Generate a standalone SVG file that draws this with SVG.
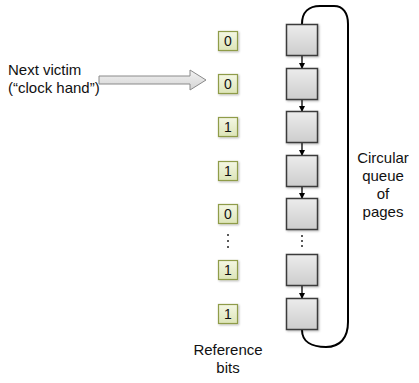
<svg xmlns="http://www.w3.org/2000/svg" width="419" height="383" viewBox="0 0 419 383">
<style>
.lbl{font-family:"Liberation Sans",Arial,sans-serif;font-size:15px;fill:#111}
.bittxt{font-family:"Liberation Sans",Arial,sans-serif;font-size:14px;fill:#111;text-anchor:middle}
.bit{fill:url(#gBit);stroke:#8f9c48;stroke-width:1.2;filter:url(#sh)}
.page{fill:url(#gPage);stroke:#3a3a3a;stroke-width:1.5;filter:url(#sh)}
.link{stroke:#000;stroke-width:1.3;fill:none;marker-end:url(#ah)}
.loop{stroke:#000;stroke-width:2;fill:none}
.dot{fill:#222}
</style>
<defs>
<filter id="sh" x="-20%" y="-20%" width="150%" height="150%"><feDropShadow dx="1" dy="1" stdDeviation="0.8" flood-color="#000" flood-opacity="0.3"/></filter>
<linearGradient id="gBit" x1="0" y1="0" x2="0" y2="1"><stop offset="0" stop-color="#f4f7e4"/><stop offset="1" stop-color="#dde5b8"/></linearGradient>
<linearGradient id="gPage" x1="0" y1="0" x2="0" y2="1"><stop offset="0" stop-color="#ececec"/><stop offset="1" stop-color="#cdcdcd"/></linearGradient>
<linearGradient id="gArrow" x1="0" y1="0" x2="0" y2="1"><stop offset="0" stop-color="#f2f2f2"/><stop offset="1" stop-color="#d4d4d4"/></linearGradient>
<marker id="ah" markerWidth="6" markerHeight="6" refX="5" refY="3" orient="auto" markerUnits="userSpaceOnUse"><path d="M0,0 L6,3 L0,6 Z" fill="#000"/></marker>
</defs>

<g id="connectors">
<path class="loop" d="M302,24 C302,12 309,6 320,6 L334,6 C343,6 348,13 348,24 L348,322 C348,338 340,347 326,347 C312,347 302,342 302,330"/>
<line class="link" x1="302" y1="56" x2="302" y2="68"/>
<line class="link" x1="302" y1="99" x2="302" y2="111"/>
<line class="link" x1="302" y1="143" x2="302" y2="155"/>
<line class="link" x1="302" y1="186" x2="302" y2="198"/>
<line class="link" x1="302" y1="286" x2="302" y2="298"/>
</g>

<g id="pointer">
<path d="M99,76 L190,76 L190,70 L206,80 L190,90 L190,84 L99,84 Z" fill="url(#gArrow)" stroke="#8a8a8a" stroke-width="1"/>
</g>
<g id="pointer-label">
<text class="lbl" x="8" y="75">Next victim</text>
<text class="lbl" x="8" y="93">(“clock hand”)</text>
</g>

<g id="page1"><rect class="page" x="286.5" y="24.5" width="31" height="31"/></g>
<g id="page2"><rect class="page" x="286.5" y="68.5" width="31" height="31"/></g>
<g id="page3"><rect class="page" x="286.5" y="111.5" width="31" height="31"/></g>
<g id="page4"><rect class="page" x="286.5" y="155.5" width="31" height="31"/></g>
<g id="page5"><rect class="page" x="286.5" y="198.5" width="31" height="31"/></g>
<g id="page6"><rect class="page" x="286.5" y="254.5" width="31" height="31"/></g>
<g id="page7"><rect class="page" x="286.5" y="298.5" width="31" height="31"/></g>
<g id="page-dots"><circle class="dot" cx="302" cy="236" r="1"/><circle class="dot" cx="302" cy="241" r="1"/><circle class="dot" cx="302" cy="246" r="1"/></g>

<g id="bit1"><rect class="bit" x="218.5" y="31.5" width="19" height="19"/><text class="bittxt" x="228" y="46">0</text></g>
<g id="bit2"><rect class="bit" x="218.5" y="74.5" width="19" height="19"/><text class="bittxt" x="228" y="89">0</text></g>
<g id="bit3"><rect class="bit" x="218.5" y="117.5" width="19" height="19"/><text class="bittxt" x="228" y="132">1</text></g>
<g id="bit4"><rect class="bit" x="218.5" y="161.5" width="19" height="19"/><text class="bittxt" x="228" y="176">1</text></g>
<g id="bit5"><rect class="bit" x="218.5" y="204.5" width="19" height="19"/><text class="bittxt" x="228" y="219">0</text></g>
<g id="bit6"><rect class="bit" x="218.5" y="260.5" width="19" height="19"/><text class="bittxt" x="228" y="275">1</text></g>
<g id="bit7"><rect class="bit" x="218.5" y="304.5" width="19" height="19"/><text class="bittxt" x="228" y="319">1</text></g>
<g id="bit-dots"><circle class="dot" cx="228" cy="235" r="1"/><circle class="dot" cx="228" cy="241" r="1"/><circle class="dot" cx="228" cy="247" r="1"/></g>

<g id="queue-label">
<text class="lbl" text-anchor="middle" x="383" y="163">Circular</text>
<text class="lbl" text-anchor="middle" x="383" y="181">queue</text>
<text class="lbl" text-anchor="middle" x="383" y="199">of</text>
<text class="lbl" text-anchor="middle" x="383" y="217">pages</text>
</g>
<g id="bits-label">
<text class="lbl" text-anchor="middle" x="228" y="355">Reference</text>
<text class="lbl" text-anchor="middle" x="228" y="373">bits</text>
</g>
</svg>
